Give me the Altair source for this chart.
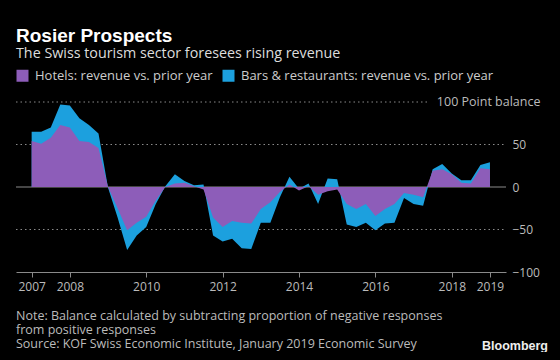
import altair as alt
import pandas as pd
import altair.utils.html as _html

# ---------------- data ----------------
quarters = [2007 + 0.25 * i for i in range(49)]  # 2007 Q1 ... 2019 Q1
hotels = [54, 51, 58, 73, 70, 54, 53, 46, 0, -25, -51, -42, -35, -16, 0, 4, 5, 1, -3,
          -36, -47, -40, -42, -43, -26, -18, -6, 3, -4, 1, -9, -5, -3, -20, -26, -20,
          -34, -26, -20, -7, -9, -12, 19, 21, 15, 5, 4, 22, 21]
bars = [65, 65, 70, 97, 96, 81, 73, 63, -1, -36, -74, -57, -47, -20, 1, 15, 7, 2, 3,
        -57, -64, -61, -72, -73, -42, -42, -12, 12, -2, 4, -20, 10, 9, -44, -47, -42,
        -51, -43, -42, -13, -20, -22, 21, 27, 16, 8, 8, 26, 29]
year_ticks = [2007, 2008, 2010, 2012, 2014, 2016, 2018, 2019]
y_ticks = [-100, -50, 0, 50, 100]
hotels_label = "Hotels: revenue vs. prior year"
bars_label = "Bars & restaurants: revenue vs. prior year"
title_text = "Rosier Prospects"
subtitle_text = "The Swiss tourism sector foresees rising revenue"
unit_label = "100 Point balance"
note_lines = [
    "Note: Balance calculated by subtracting proportion of negative responses",
    "from positive responses",
    "Source: KOF Swiss Economic Institute, January 2019 Economic Survey",
]
brand = "Bloomberg"

X_DOMAIN = [2006.59, 2019.42]
Y_DOMAIN = [-100, 100]
PURPLE = "#8D5DB9"
BLUE = "#1CA0DE"
FONT = "Open Sans"

df = pd.DataFrame({"t": quarters, "hotels": hotels, "bars": bars})
grid_df = pd.DataFrame({"y": [100, 50, -50],
                        "x": [X_DOMAIN[0]] * 3,
                        "x2": [2017.38, X_DOMAIN[1], X_DOMAIN[1]]})
zero_df = pd.DataFrame({"y": [0], "x": [X_DOMAIN[0]], "x2": [X_DOMAIN[1]]})
unit_df = pd.DataFrame({"x": [2017.61], "y": [100], "label": [unit_label]})
one = pd.DataFrame({"a": [0]})

xs = alt.Scale(domain=X_DOMAIN, nice=False, zero=False)
ys = alt.Scale(domain=Y_DOMAIN, nice=False)
color_scale = alt.Scale(domain=[hotels_label, bars_label], range=[PURPLE, BLUE])

x_axis = alt.Axis(values=year_ticks, format="d", title=None, grid=False,
                  domainColor="#8a8a8a", tickColor="#8a8a8a", tickSize=5,
                  labelColor="#bbbbbb", labelFontSize=12, labelFont=FONT,
                  labelPadding=4)
y_axis = alt.Axis(values=y_ticks, orient="right", title=None, grid=False,
                  domain=False, ticks=False, labelPadding=6,
                  labelColor="#bbbbbb", labelFontSize=12, labelFont=FONT,
                  labelExpr="datum.value == 100 ? '' : datum.label")

legend = alt.Legend(orient="none", legendX=0, legendY=-33, direction="horizontal",
                    title=None, symbolType="square", symbolSize=144,
                    symbolStrokeWidth=0, symbolOpacity=1, labelFontSize=13,
                    labelFont=FONT, labelColor="#cccccc", columnPadding=9,
                    labelOffset=6, labelLimit=0)

grid = alt.Chart(grid_df).mark_rule(color="#8a8a8a", strokeDash=[1.5, 3], strokeWidth=1).encode(
    x=alt.X("x:Q", scale=xs, axis=x_axis), x2="x2:Q",
    y=alt.Y("y:Q", scale=ys, axis=y_axis))

zero = alt.Chart(zero_df).mark_rule(color="#8a8a8a", strokeWidth=1).encode(
    x=alt.X("x:Q", scale=xs), x2="x2:Q", y=alt.Y("y:Q", scale=ys))

blue_area = alt.Chart(df).transform_calculate(series=repr(bars_label)).mark_area(
    opacity=1, interpolate="linear").encode(
    x=alt.X("t:Q", scale=xs),
    y=alt.Y("bars:Q", scale=ys),
    color=alt.Color("series:N", scale=color_scale, legend=legend))

purple_area = alt.Chart(df).transform_calculate(series=repr(hotels_label)).mark_area(
    opacity=1, interpolate="linear").encode(
    x=alt.X("t:Q", scale=xs),
    y=alt.Y("hotels:Q", scale=ys),
    color=alt.Color("series:N", scale=color_scale, legend=legend))

unit = alt.Chart(unit_df).mark_text(align="left", baseline="middle", fontSize=12.5,
                                    font=FONT, color="#bbbbbb").encode(
    x=alt.X("x:Q", scale=xs), y=alt.Y("y:Q", scale=ys), text="label:N")

notes = alt.Chart(one).mark_text(align="left", baseline="alphabetic", fontSize=12.5,
                                 font=FONT, color="#bbbbbb", lineHeight=14).encode(
    x=alt.value(0), y=alt.value(218), text=alt.value(note_lines))

brand_mark = alt.Chart(one).mark_text(align="right", baseline="alphabetic", fontSize=12.5,
                                      font="Liberation Sans", fontWeight="bold",
                                      color="#eeeeee").encode(
    x=alt.value(532), y=alt.value(248), text=alt.value(brand))

chart = alt.layer(grid, zero, blue_area, purple_area, unit, notes, brand_mark).resolve_scale(
    x="shared", y="shared").properties(
    width=490, height=170,
    title=alt.Title(title_text, subtitle=subtitle_text, anchor="start", frame="group",
                    offset=8, font="Liberation Sans", fontSize=19, fontWeight="bold",
                    color="#ffffff",
                    subtitleFont=FONT, subtitleFontSize=14.3, subtitleColor="#dddddd",
                    subtitlePadding=1),
    autosize=alt.AutoSizeParams(type="none"),
    padding={"left": 8, "top": 94, "right": 46, "bottom": 80},
).configure(background="#000000").configure_view(stroke=None)

# make the page margin black as well
_orig_tpl = _html.TEMPLATES["standard"]


class _BlackPage:
    def render(self, *args, **kwargs):
        out = _orig_tpl.render(*args, **kwargs)
        return out.replace(
            "</head>",
            "<style>html,body{background:#000;overflow:hidden;}</style></head>", 1)


_html.TEMPLATES["standard"] = _BlackPage()

chart.save("out.html", embed_options={"renderer": "svg", "actions": False})
